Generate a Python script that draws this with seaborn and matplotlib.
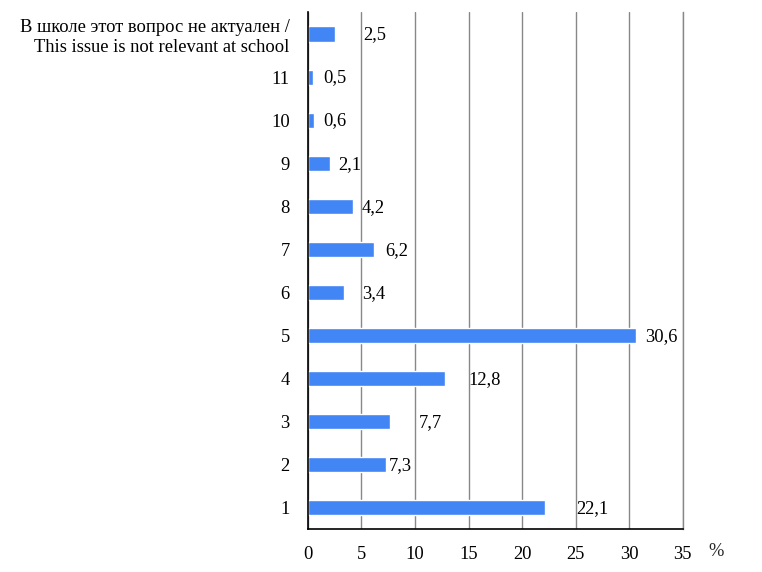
import matplotlib
matplotlib.use("Agg")
import matplotlib.pyplot as plt
import seaborn as sns
import pandas as pd

categories = ["В школе этот вопрос не актуален /\nThis issue is not relevant at school",
              "11", "10", "9", "8", "7", "6", "5", "4", "3", "2", "1"]
values = [2.5, 0.5, 0.6, 2.1, 4.2, 6.2, 3.4, 30.6, 12.8, 7.7, 7.3, 22.1]
value_labels = ["2,5", "0,5", "0,6", "2,1", "4,2", "6,2", "3,4", "30,6", "12,8", "7,7", "7,3", "22,1"]
label_offsets_px = [29, 10, 9, 8, 9, 11, 18, 10, 23, 28, 3, 32]
x_ticks = [0, 5, 10, 15, 20, 25, 30, 35]

sns.set_style("white")
plt.rcParams["font.family"] = ["Liberation Serif", "DejaVu Serif"]

FS = 13.3
df = pd.DataFrame({"cat": categories, "val": values})

fig = plt.figure(figsize=(7.62, 5.72), dpi=100)
ax = fig.add_axes([0.404, 0.0752, 0.492, 0.903])

sns.barplot(data=df, y="cat", x="val", order=categories, orient="h",
            color="#4285F4", saturation=1, width=0.35, ax=ax)

ax.set_xlim(0, 35)
ax.set_ylim(len(categories) - 0.5, -0.5)
ax.set_xticks(x_ticks)
ax.set_xticklabels([str(t) for t in x_ticks])
ax.set_xlabel("")
ax.set_ylabel("")
ax.set_axisbelow(True)
ax.grid(axis="x", color="#888888", linewidth=1)
ax.grid(axis="y", visible=False)

ax.spines["top"].set_visible(False)
ax.spines["right"].set_color("#888888")
ax.spines["right"].set_linewidth(1)
for s in ["left", "bottom"]:
    ax.spines[s].set_color("black")
    ax.spines[s].set_linewidth(1.2)

ax.tick_params(axis="x", length=0, pad=12, labelsize=FS, colors="black")
ax.tick_params(axis="y", length=0, pad=13, labelsize=FS, colors="black")
for lbl in ax.get_yticklabels():
    lbl.set_horizontalalignment("right")
    lbl.set_multialignment("right")

for i, (v, t, off) in enumerate(zip(values, value_labels, label_offsets_px)):
    ax.annotate(t, xy=(v, i), xytext=(off, -1), textcoords="offset pixels",
                ha="left", va="center", fontsize=FS, color="black")

ax.annotate("%", xy=(1.0, 0), xycoords="axes fraction", xytext=(26, -14),
            textcoords="offset pixels", ha="left", va="top", fontsize=FS)

fig.savefig("out.png", dpi=100)
